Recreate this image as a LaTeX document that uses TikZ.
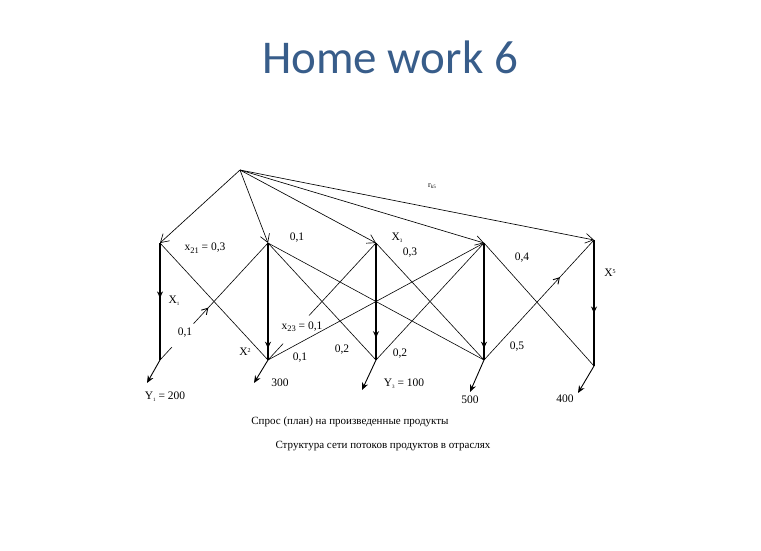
\documentclass[tikz,border=0pt]{standalone}
\usepackage{fontspec}
\setmainfont{Liberation Serif}
\newfontfamily\titlefont{Carlito}
\usepackage{tikz}
\usetikzlibrary{arrows.meta, calc, decorations.markings}
\definecolor{titleBlue}{RGB}{56,93,138}
\newcommand{\sbs}[1]{\raisebox{-0.45ex}{\fontsize{8.5}{8.5}\selectfont #1}}
\newcommand{\tsb}[1]{\raisebox{-0.4ex}{\fontsize{5}{5}\selectfont #1}}
\newcommand{\sps}[1]{\raisebox{0.7ex}{\fontsize{6}{6}\selectfont #1}}

\begin{document}
\begin{tikzpicture}[
    x=1pt, y=-1pt,
    flow/.style={-{Straight Barb[length=2.8mm, width=3.4mm]}, line width=0.65pt},
    link/.style={line width=0.6pt},
    sector/.style={line width=1.5pt},
    demand/.style={-{Stealth[length=2.6mm, width=2.2mm]}, line width=0.9pt},
    midarrow/.style={postaction={decorate, decoration={markings, mark=at position #1 with {\arrow{Stealth[length=2.3mm, width=2.1mm]}}}}},
    openmid/.style={postaction={decorate, decoration={markings, mark=at position #1 with {\arrow[line width=0.9pt]{Straight Barb[length=2mm, width=2.4mm]}}}}},
    lbl/.style={font=\fontsize{11.5}{13}\selectfont, inner sep=1pt},
    every node/.style={font=\fontsize{11.5}{13}\selectfont}
]
\useasboundingbox (0,0) rectangle (761,551);

% Title
\node[font=\titlefont\fontsize{47}{50}\selectfont, text=titleBlue] (title) at (390,57) {Home work 6};

% Source and sector columns
\coordinate (src) at (240,170);
\foreach \i/\x in {1/160, 2/268, 3/376, 4/484} {
    \coordinate (t\i) at (\x,243);
    \coordinate (b\i) at (\x,360);
}
\coordinate (t5) at (594,240);
\coordinate (b5) at (594,366);

% Demand ends
\coordinate (d1) at (147,383);
\coordinate (d2) at (254,383);
\coordinate (d3) at (362,390);
\coordinate (d4) at (470,392);
\coordinate (d5) at (578,393);

% Flows from source
\foreach \i in {1,...,5} \draw[flow] (src) -- (t\i);

% Sector columns
\draw[sector, midarrow=0.47] (t1) -- (b1);
\draw[sector, midarrow=0.9] (t2) -- (b2);
\draw[sector, midarrow=0.81] (t3) -- (b3);
\draw[sector, midarrow=0.9] (t4) -- (b4);
\draw[sector, midarrow=0.58] (t5) -- (b5);

% Cross links between sectors
\draw[link] (t1) -- (b2);
\draw[link] (b1) -- ($(b1)!0.11!(t2)$);
\draw[link, openmid=0.2] ($(b1)!0.31!(t2)$) -- (t2);
\draw[link] (t2) -- (b3);
\draw[link] (t2) -- (b4);
\draw[link] (t3) -- ($(t3)!0.62!(b2)$);
\draw[link] ($(t3)!0.86!(b2)$) -- (b2);
\draw[link] (b2) -- (t4);
\draw[link] (t3) -- (b4);
\draw[link] (b3) -- (t4);
\draw[link] (t4) -- (b5);
\draw[link, openmid=0.69] (b4) -- (t5);

% Final demand
\foreach \i in {1,...,5} \draw[demand] (b\i) -- (d\i);

% Labels
\node[lbl] (x21) at (205,248) {x\sbs{21} = 0,3};
\node[lbl] (a12) at (297,238) {0,1};
\node[lbl] (x3) at (397,238) {X\tsb{3}};
\node[lbl] (a34) at (410,253) {0,3};
\node[lbl, font=\fontsize{8}{9}\selectfont] (rk5) at (432,186) {r\tsb{k5}};
\node[lbl] (a45) at (522,258) {0,4};
\node[lbl] (x5) at (610,273) {X\sps{5}};
\node[lbl] (x1) at (174,301) {X\tsb{1}};
\node[lbl] (a21) at (185,333) {0,1};
\node[lbl] (x23) at (302,327) {x\sbs{23} = 0,1};
\node[lbl] (x2) at (245,352) {X\sps{2}};
\node[lbl] (a24) at (300,358) {0,1};
\node[lbl] (a32) at (342,350) {0,2};
\node[lbl] (a3b) at (400,354) {0,2};
\node[lbl] (a54) at (517,347) {0,5};

% Demand values
\node[lbl] (y1) at (165,397) {Y\tsb{1} = 200};
\node[lbl] (y2) at (280,383) {300};
\node[lbl] (y3) at (404,384) {Y\tsb{3} = 100};
\node[lbl] (y4) at (470,400) {500};
\node[lbl] (y5) at (565,399) {400};

% Captions
\node[lbl, font=\fontsize{11}{13}\selectfont] (cap1) at (350,422) {Спрос (план) на произведенные продукты};
\node[lbl, font=\fontsize{11}{13}\selectfont] (cap2) at (383,446) {Структура сети потоков продуктов в отраслях};

\end{tikzpicture}
\end{document}
